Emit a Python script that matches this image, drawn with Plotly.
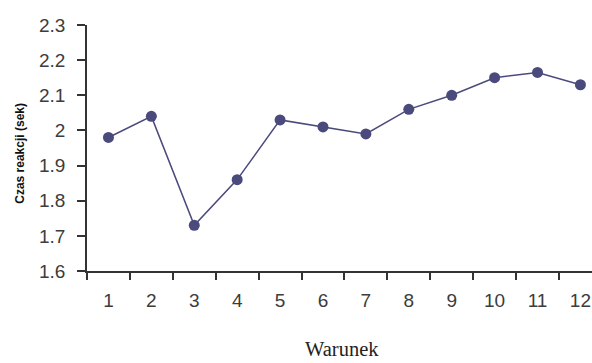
import plotly.graph_objects as go

# Condition numbers and mean reaction times (seconds)
warunek = ["1", "2", "3", "4", "5", "6", "7", "8", "9", "10", "11", "12"]
czas_reakcji = [1.98, 2.04, 1.73, 1.86, 2.03, 2.01, 1.99, 2.06, 2.10, 2.15, 2.165, 2.13]
y_ticks = [1.6, 1.7, 1.8, 1.9, 2.0, 2.1, 2.2, 2.3]
y_tick_text = ["1.6", "1.7", "1.8", "1.9", "2", "2.1", "2.2", "2.3"]

series_color = "#4a4a7c"
axis_color = "#333333"
label_color = "#3c3c3c"

fig = go.Figure(
    go.Scatter(
        x=warunek,
        y=czas_reakcji,
        mode="lines+markers",
        line=dict(color=series_color, width=1.5),
        marker=dict(color=series_color, size=11, symbol="circle"),
    )
)

fig.update_layout(
    width=592,
    height=363,
    margin=dict(l=87, r=0, t=25, b=92),
    paper_bgcolor="white",
    plot_bgcolor="white",
    showlegend=False,
    font=dict(family="Arial, Liberation Sans, sans-serif", size=19, color=label_color),
)

fig.update_xaxes(
    type="category",
    range=[-0.5, 11.27],
    tickson="boundaries",
    ticks="outside",
    ticklen=7,
    tickwidth=1.5,
    tickcolor=axis_color,
    ticklabelstandoff=11,
    showline=True,
    linecolor=axis_color,
    linewidth=1.5,
    showgrid=False,
    zeroline=False,
    tickfont=dict(size=19, color=label_color),
)

fig.update_yaxes(
    range=[1.6, 2.3],
    tickvals=y_ticks,
    ticktext=y_tick_text,
    ticks="outside",
    ticklen=8,
    tickwidth=1.5,
    tickcolor=axis_color,
    ticklabelstandoff=8,
    showline=True,
    linecolor=axis_color,
    linewidth=1.5,
    showgrid=False,
    zeroline=False,
    tickfont=dict(size=19, color=label_color),
)

fig.add_annotation(
    text="<b>Czas reakcji (sek)</b>",
    xref="paper", yref="paper",
    x=-0.133, y=0.48,
    xanchor="center", yanchor="middle",
    textangle=-90,
    showarrow=False,
    font=dict(family="Arial, Liberation Sans, sans-serif", size=12, color="#111111"),
)

fig.add_annotation(
    text="Warunek",
    xref="paper", yref="paper",
    x=0.505, y=-0.316,
    xanchor="center", yanchor="middle",
    showarrow=False,
    font=dict(family="Liberation Serif, Times New Roman, serif", size=20.5, color="#222222"),
)

fig.write_html("out.html")
